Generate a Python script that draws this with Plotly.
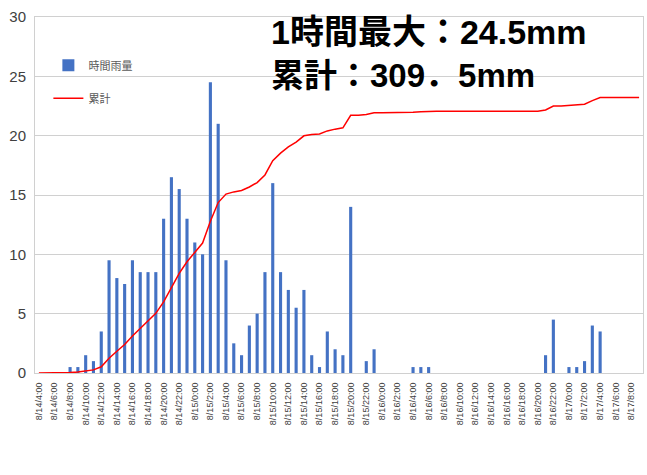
import plotly.graph_objects as go

categories = [
    "8/14/4:00", "8/14/5:00", "8/14/6:00", "8/14/7:00", "8/14/8:00", "8/14/9:00", "8/14/10:00", "8/14/11:00",
    "8/14/12:00", "8/14/13:00", "8/14/14:00", "8/14/15:00", "8/14/16:00", "8/14/17:00", "8/14/18:00", "8/14/19:00",
    "8/14/20:00", "8/14/21:00", "8/14/22:00", "8/14/23:00",
    "8/15/0:00", "8/15/1:00", "8/15/2:00", "8/15/3:00", "8/15/4:00", "8/15/5:00", "8/15/6:00", "8/15/7:00",
    "8/15/8:00", "8/15/9:00", "8/15/10:00", "8/15/11:00", "8/15/12:00", "8/15/13:00", "8/15/14:00", "8/15/15:00",
    "8/15/16:00", "8/15/17:00", "8/15/18:00", "8/15/19:00", "8/15/20:00", "8/15/21:00", "8/15/22:00", "8/15/23:00",
    "8/16/0:00", "8/16/1:00", "8/16/2:00", "8/16/3:00", "8/16/4:00", "8/16/5:00", "8/16/6:00", "8/16/7:00",
    "8/16/8:00", "8/16/9:00", "8/16/10:00", "8/16/11:00", "8/16/12:00", "8/16/13:00", "8/16/14:00", "8/16/15:00",
    "8/16/16:00", "8/16/17:00", "8/16/18:00", "8/16/19:00", "8/16/20:00", "8/16/21:00", "8/16/22:00", "8/16/23:00",
    "8/17/0:00", "8/17/1:00", "8/17/2:00", "8/17/3:00", "8/17/4:00", "8/17/5:00", "8/17/6:00", "8/17/7:00",
    "8/17/8:00", "8/17/9:00",
]

hourly_rain = [
    0, 0, 0, 0, 0.5, 0.5, 1.5, 1, 3.5, 9.5, 8, 7.5, 9.5, 8.5, 8.5, 8.5, 13, 16.5, 15.5, 13,
    11, 10, 24.5, 21, 9.5, 2.5, 1.5, 4, 5, 8.5, 16, 8.5, 7, 5.5, 7, 1.5, 0.5, 3.5, 2, 1.5, 14, 0, 1, 2,
    0, 0, 0, 0, 0.5, 0.5, 0.5, 0, 0, 0, 0, 0, 0, 0, 0, 0, 0, 0, 0, 0, 0, 1.5, 4.5, 0,
    0.5, 0.5, 1, 4, 3.5, 0, 0, 0, 0, 0,
]

cumulative = [
    0, 0, 0, 0, 0.5, 1, 2.5, 3.5, 7, 16.5, 24.5, 32, 41.5, 50, 58.5, 67, 80, 96.5, 112, 125,
    136, 146, 170.5, 191.5, 201, 203.5, 205, 209, 214, 222.5, 238.5, 247, 254, 259.5, 266.5, 268,
    268.5, 272, 274, 275.5, 289.5, 289.5, 290.5, 292.5,
    292.5, 292.5, 292.5, 292.5, 293, 293.5, 294, 294, 294, 294, 294, 294, 294, 294, 294, 294,
    294, 294, 294, 294, 294, 295.5, 300, 300,
    300.5, 301, 302, 306, 309.5, 309.5, 309.5, 309.5, 309.5, 309.5,
]

tick_labels = categories[::2]
y_ticks = [0, 5, 10, 15, 20, 25, 30]

title_line1 = "1時間最大：24.5mm"
title_line2 = "累計：309．5mm"

fig = go.Figure()
fig.add_trace(go.Bar(
    x=categories, y=hourly_rain, name="時間雨量",
    marker=dict(color="#4472C4", line=dict(width=0)),
    legendgroup="a",
))
fig.add_trace(go.Scatter(
    x=categories, y=cumulative, name="累計", mode="lines",
    line=dict(color="#FF0000", width=1.5),
    yaxis="y2", legendgroup="b",
))

title_font1 = dict(family="Liberation Sans, Noto Sans CJK JP", size=34, color="black", weight="bold")
title_font2 = dict(family="Liberation Sans, Noto Sans CJK JP", size=33, color="black", weight="bold")

fig.update_layout(
    width=647, height=475,
    margin=dict(l=35, r=4, t=17, b=102),
    paper_bgcolor="white", plot_bgcolor="white",
    bargap=0.6,
    showlegend=True,
    legend=dict(
        x=0.022, y=0.905, xanchor="left", yanchor="top",
        bgcolor="rgba(0,0,0,0)",
        font=dict(family="Noto Sans CJK JP", size=11, color="#595959"),
        tracegroupgap=14, traceorder="grouped",
        itemwidth=30,
    ),
    xaxis=dict(
        type="category",
        tickmode="array", tickvals=tick_labels, ticktext=tick_labels,
        tickangle=-90,
        tickfont=dict(family="Liberation Sans", size=9, color="#404040"),
        showgrid=False,
        showline=True, linecolor="#D0D0D0", mirror=True,
        ticks="outside", ticklen=5, tickcolor="rgba(0,0,0,0)",
    ),
    yaxis=dict(
        range=[0, 30], tickvals=y_ticks,
        tickfont=dict(family="Liberation Sans", size=15, color="#404040"),
        showgrid=True, gridcolor="#D0D0D0", gridwidth=1,
        showline=True, linecolor="#D0D0D0", mirror=True,
        zeroline=False, ticks="outside", ticklen=5, tickcolor="rgba(0,0,0,0)",
    ),
    yaxis2=dict(
        range=[0, 400], overlaying="y", side="right", visible=False,
    ),
    annotations=[
        dict(text=title_line1, xref="paper", yref="paper", x=0.385, y=0.958,
             xanchor="left", yanchor="middle", showarrow=False, font=title_font1),
        dict(text=title_line2, xref="paper", yref="paper", x=0.385, y=0.837,
             xanchor="left", yanchor="middle", showarrow=False, font=title_font2),
    ],
)

fig.write_html("out.html", post_script="document.body.style.margin='0';",
               config={"displayModeBar": False})
